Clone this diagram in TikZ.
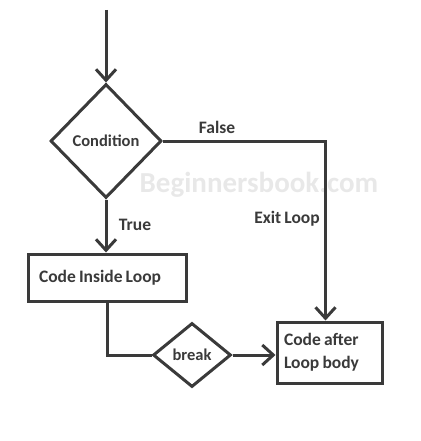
\documentclass[tikz,border=0pt]{standalone}
\usepackage{fontspec}
\setmainfont{Carlito}[WordSpace=0.8]
\usetikzlibrary{shapes.geometric,arrows.meta,calc}
\definecolor{ink}{HTML}{3A3A3A}
\begin{document}
\begin{tikzpicture}[x=1pt,y=-1pt,
  every node/.style={font=\fontsize{17.5}{20}\selectfont\bfseries, text=ink},
  line/.style={draw=ink, line width=3pt},
  arr/.style={line, -{Straight Barb[length=11pt,width=20pt,line width=3pt]}},
  dia/.style={diamond, draw=ink, line width=3pt, inner sep=0pt},
  boxx/.style={rectangle, draw=ink, line width=3pt, inner sep=0pt},
  lbl/.style={font=\fontsize{17.5}{20}\selectfont\bfseries}]
\useasboundingbox (0,0) rectangle (420,441);
\node[font=\fontsize{29}{32}\selectfont\bfseries, text=black!9] (wm) at (259,185) {Beginnersbook.com};
\coordinate (start) at (106,10);
\node[dia, minimum width=111pt, minimum height=114pt, font=\fontsize{16.5}{19}\selectfont\bfseries] (cond) at (106,141) {Condition};
\node[boxx, minimum width=158pt, minimum height=47pt] (box1) at (107,277.5) {\makebox[136pt][l]{Code Inside Loop}};
\node[dia, minimum width=78pt, minimum height=64pt, font=\fontsize{16.5}{19}\selectfont\bfseries] (brk) at (192,355) {break};
\node[boxx, minimum width=105pt, minimum height=61pt] (box2) at (329.5,352.5) {\makebox[91pt][l]{\renewcommand\arraystretch{1.15}\begin{tabular}{@{}l@{}}Code after\\Loop body\end{tabular}}};
\coordinate (ex) at ($(box2.north)+(-4,0)$);
\draw[arr] (start) -- (cond.north);
\draw[arr] (cond.east) -| (ex);
\draw[arr] (cond.south) -- (cond.south |- box1.north);
\draw[line] (box1.south) |- (brk.west);
\draw[arr] (brk.east) -- (brk.east -| box2.west);
\node[lbl] (lfalse) at (217,127) {False};
\node[lbl] (ltrue) at (135,225) {True};
\node[lbl] (lexit) at (287,219) {Exit Loop};
\end{tikzpicture}
\end{document}
